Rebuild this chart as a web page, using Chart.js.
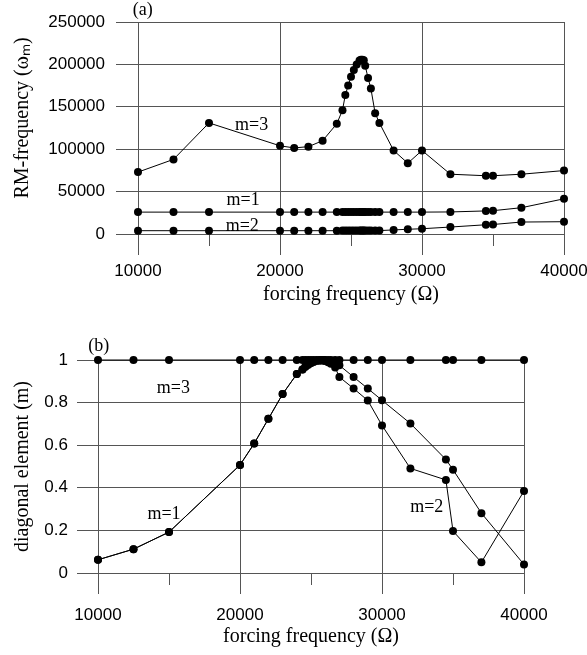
<!DOCTYPE html>
<html>
<head>
<meta charset="utf-8">
<script src="https://cdn.jsdelivr.net/npm/chart.js@4.4.0/dist/chart.umd.min.js"></script>
<style>
  body { margin: 0; background: #fff; }
  canvas { position: absolute; left: 0; }
  #chartA { top: 0; }
  #chartB { top: 320px; }
</style>
</head>
<body>
<canvas id="chartA" width="587" height="311"></canvas>
<canvas id="chartB" width="587" height="335"></canvas>
<script>
// forcing frequency, same for every curve
var freq = [10000, 12500, 15000, 20000, 21000, 22000, 23000, 24000, 24400, 24600, 24800, 25000, 25200, 25400, 25600, 25700,
            25800, 25900, 26000, 26200, 26400, 26700, 27000, 28000, 29000, 30000, 32000, 34500, 35000, 37000, 40000];

// (a) RM-frequency
var rmM3 = [73000, 88000, 131000, 104000, 101500, 103000, 110000, 130000, 146000, 164000, 175000, 185500, 193500, 200000, 204500, 205500,
            205500, 205000, 198500, 184000, 171500, 142500, 131000, 98500, 83500, 98500, 70500, 68700, 68700, 70500, 74800];
var rmM1 = [25800, 25800, 25800, 25800, 25800, 25800, 25800, 25800, 25800, 25800, 25800, 25800, 25800, 25800, 25800, 25800,
            25800, 25800, 25800, 25800, 25800, 25800, 25800, 25800, 25800, 25800, 26000, 27200, 27500, 31000, 41500];
var rmM2 = [3900, 3900, 3900, 3900, 3900, 3900, 3900, 3900, 4000, 4000, 4000, 4000, 4000, 4000, 4000, 4000,
            4000, 4000, 4000, 4000, 4000, 4000, 4000, 4800, 5600, 6200, 8200, 10900, 11200, 14100, 14500];

// (b) diagonal element
var diagM3 = [1, 1, 1, 1, 1, 1, 1, 1, 1, 1, 1, 1, 1, 1, 1, 1,
              1, 1, 1, 1, 1, 1, 1, 1, 1, 1, 1, 1, 1, 1, 1];
var diagM1 = [0.062, 0.112, 0.192, 0.507, 0.608, 0.724, 0.840, 0.934, 0.955, 0.968, 0.978, 0.986, 0.992, 0.996, 0.998, 0.999,
              0.999, 0.998, 0.997, 0.994, 0.990, 0.984, 0.975, 0.920, 0.866, 0.811, 0.702, 0.533, 0.485, 0.281, 0.040];
var diagM2 = [0.062, 0.112, 0.192, 0.507, 0.608, 0.724, 0.840, 0.934, 0.955, 0.968, 0.978, 0.986, 0.992, 0.996, 0.998, 0.999,
              0.999, 0.998, 0.996, 0.990, 0.982, 0.965, 0.920, 0.866, 0.810, 0.693, 0.491, 0.437, 0.197, 0.050, 0.385];

var xTicks = [10000, 20000, 30000, 40000];

// text in the plots, placed in data units
var notesA = ['(a)', 'm=3', 'm=1', 'm=2'];
var notesAx = [10330, 18000, 17400, 17340];
var notesAy = [263800, 128600, 39200, 8900];
var notesB = ['(b)', 'm=3', 'm=1', 'm=2'];
var notesBx = [10050, 15310, 14650, 33150];
var notesBy = [1.066, 0.866, 0.276, 0.307];

var gridCol = '#555';

function pts(ys) {
    return freq.map(function (f, i) { return {x: f, y: ys[i]}; });
}

function series(ys) {
    return {
        data: pts(ys),
        showLine: true,
        borderColor: '#000',
        borderWidth: 1,
        pointRadius: 4,
        pointHoverRadius: 4,
        pointBackgroundColor: '#000',
        pointBorderWidth: 0,
        clip: false
    };
}

var notePlugin = {
    id: 'notes',
    afterDatasetsDraw: function (chart, args, opts) {
        var ctx = chart.ctx, x = chart.scales.x, y = chart.scales.y;
        ctx.save();
        ctx.font = '18px "Liberation Serif"';
        ctx.fillStyle = '#000';
        ctx.textAlign = 'center';
        ctx.textBaseline = 'middle';
        opts.text.forEach(function (t, i) {
            ctx.fillText(t, x.getPixelForValue(opts.xs[i]), y.getPixelForValue(opts.ys[i]));
        });
        ctx.restore();
    }
};

function makeChart(id, sets, cfg) {
    return new Chart(document.getElementById(id), {
        type: 'scatter',
        data: { datasets: sets.map(series) },
        plugins: [notePlugin],
        options: {
            responsive: false,
            animation: false,
            events: [],
            layout: { padding: cfg.pad },
            plugins: {
                legend: { display: false },
                tooltip: { enabled: false },
                notes: cfg.notes
            },
            scales: {
                x: {
                    type: 'linear',
                    min: 10000, max: 40000,
                    afterFit: function (s) {
                        s.height = cfg.xHeight;
                        s.paddingLeft = 0;
                        s.paddingRight = 0;
                    },
                    afterBuildTicks: function (s) {
                        s.ticks = [10000, 15000, 20000, 25000, 30000, 35000, 40000].map(function (v) { return {value: v}; });
                    },
                    ticks: {
                        autoSkip: false, maxRotation: 0, padding: cfg.xPad,
                        color: '#000',
                        font: { family: 'Liberation Sans', size: 17 },
                        callback: function (v) { return xTicks.indexOf(v) >= 0 ? String(v) : ''; }
                    },
                    grid: {
                        color: function (c) { return xTicks.indexOf(c.tick.value) >= 0 ? gridCol : 'rgba(0,0,0,0)'; },
                        tickColor: gridCol,
                        tickLength: 21,
                        tickBorderDash: function (c) { return xTicks.indexOf(c.tick.value) >= 0 ? [] : [11, 40]; }
                    },
                    border: { color: gridCol },
                    title: {
                        display: true, text: 'forcing frequency (Ω)', color: '#000',
                        font: { family: 'Liberation Serif', size: 20 },
                        padding: { top: 0, bottom: 4 }
                    }
                },
                y: {
                    min: cfg.yMin, max: cfg.yMax,
                    afterFit: function (s) {
                        s.width = cfg.yWidth;
                        s.paddingTop = 0;
                        s.paddingBottom = 0;
                    },
                    ticks: {
                        stepSize: cfg.yStep, padding: cfg.yPad,
                        color: '#000',
                        font: { family: 'Liberation Sans', size: 17 },
                        callback: function (v) { return cfg.isMajor(v) ? cfg.fmt(v) : ''; }
                    },
                    grid: {
                        color: function (c) { return cfg.isMajor(c.tick.value) ? gridCol : 'rgba(0,0,0,0)'; },
                        tickColor: gridCol,
                        tickLength: cfg.yTick
                    },
                    border: { color: gridCol },
                    title: {
                        display: true, text: cfg.yTitle, color: '#000',
                        font: { family: 'Liberation Serif', size: 20 },
                        padding: { top: 11, bottom: 0 }
                    }
                }
            }
        }
    });
}

makeChart('chartA', [rmM3, rmM1, rmM2], {
    pad: { top: 22, right: 23, bottom: 0, left: 0 },
    xHeight: 77, xPad: 6,
    yMin: 0, yMax: 250000, yStep: 25000, yWidth: 138, yPad: 11, yTick: 22,
    isMajor: function (v) { return Math.round(v / 25000) % 2 === 0; },
    fmt: function (v) { return String(v); },
    yTitle: '    RM-frequency (ωₘ)',
    notes: { text: notesA, xs: notesAx, ys: notesAy }
});

makeChart('chartB', [diagM3, diagM1, diagM2], {
    pad: { top: 40, right: 63, bottom: 2, left: 0 },
    xHeight: 80, xPad: 11,
    yMin: 0, yMax: 1, yStep: 0.1, yWidth: 98, yPad: 9, yTick: 21,
    isMajor: function (v) { return Math.round(v * 10) % 2 === 0; },
    fmt: function (v) { return String(Math.round(v * 10) / 10); },
    yTitle: 'diagonal element (m)',
    notes: { text: notesB, xs: notesBx, ys: notesBy }
});
</script>
</body>
</html>
